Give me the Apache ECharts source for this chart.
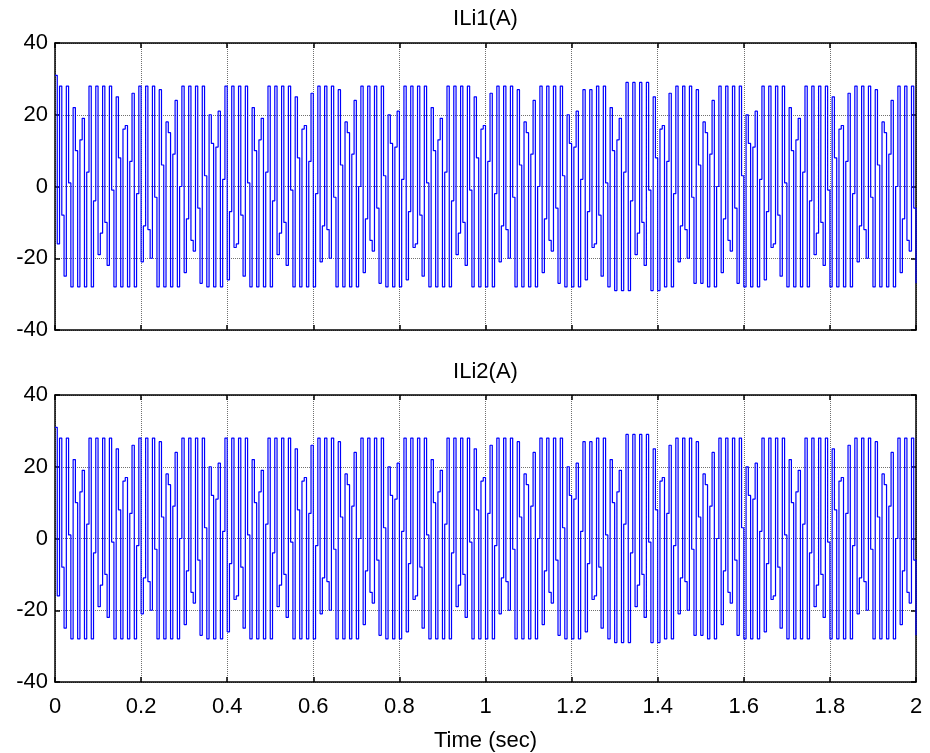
<!DOCTYPE html>
<html>
<head>
<meta charset="utf-8">
<script src="https://cdn.jsdelivr.net/npm/echarts@6/dist/echarts.min.js"></script>
<style>
html,body{margin:0;padding:0;background:#fff;}
#chart{width:930px;height:753px;}
</style>
</head>
<body>
<div id="chart"></div>
<script>
// Sample step of the plotted (held) trace, in s
const sampleStep = 1 / 190;
// ILi1(A) held sample values, read as a stair trace from t = 0 to t = 2 s
const ili1Values = [
31,-16,28,-8,-25,28,1,-28,22,10, -28,13,19,-28,4,28,-28,-4,28,-19,
-13,28,-10,-22,28,-1,-28,25,8,-28, 16,17,-28,7,26,-28,-2,28,-21,-11,
28,-12,-20,28,-3,-28,27,6,-28,18, 15,-28,9,24,-28,0,28,-24,-9,28,
-15,-18,28,-6,-27,28,3,-28,20,12, -28,11,21,-28,2,28,-26,-7,28,
-17,-16,28,-8,-25,28,1,-28,22,10, -28,13,19,-28,4,28,-28,-4,28,-19,
-13,28,-10,-22,28,-1,-28,25,8,-28, 16,17,-28,7,26,-28,-2,28,-21,-11,
28,-12,-20,28,-3,-28,27,6,-28,18, 15,-28,9,24,-28,0,28,-24,-9,28,
-15,-18,28,-6,-27,28,3,-28,20,12, -28,11,21,-28,2,28,-26,-7,28,
-17,-16,28,-8,-25,28,1,-28,22,10, -28,13,19,-28,4,28,-28,-4,28,-19,
-13,28,-10,-22,28,-1,-28,25,8,-28, 16,17,-28,7,26,-28,-2,28,-21,-11,
28,-12,-20,28,-3,-28,27,6,-28,18, 15,-28,9,24,-28,0,28,-24,-9,28,
-15,-18,28,-6,-27,28,3,-28,20,12, -28,11,21,-28,2,27,-26,-7,27,
-17,-16,28,-8,-25,28,1,-28,22,10, -29,13,19,-29,4,29,-29,-4,29,-19,
-13,29,-10,-22,29,-1,-29,25,8,-29, 16,17,-28,7,26,-28,-2,28,-21,-11,
28,-12,-20,28,-3,-27,27,6,-27,18, 15,-28,9,24,-28,0,28,-24,-9,28,
-15,-18,28,-6,-27,28,3,-28,20,12, -28,11,21,-28,2,28,-26,-7,28,
-17,-16,28,-8,-25,28,1,-28,22,10, -28,13,19,-28,4,28,-28,-4,28,-19,
-13,28,-10,-22,28,-1,-28,25,8,-28, 16,17,-28,7,26,-28,-2,28,-21,-11,
28,-12,-20,28,-3,-28,27,6,-28,18, 15,-28,9,24,-28,0,28,-24,-9,28,
-15,-18,28,-6,-27
];
// ILi2(A) trace is the same as ILi1(A) in the picture
const ili2Values = ili1Values.slice();
const xTickLabels = ['0','0.2','0.4','0.6','0.8','1','1.2','1.4','1.6','1.8','2'];
const yTickLabels = ['-40','-20','0','20','40'];
const titles = ['ILi1(A)', 'ILi2(A)'];
const xName = 'Time (sec)';

// zero-order-hold (stairs) point list built from the sample values
function toStairs(vals){
  const out = [];
  vals.forEach((v, i) => {
    const t = i * sampleStep;
    if (i > 0) out.push([t, vals[i - 1]]);
    out.push([t, v]);
  });
  return out;
}

const FONT = '"Liberation Sans", Arial, sans-serif';
const GRID_L = 55, GRID_W = 861, GRID_H = 287;
const tops = [43, 395];

const chart = echarts.init(document.getElementById('chart'), null, {renderer:'canvas'});

const grids = [], xAxes = [], yAxes = [], series = [];
tops.forEach((top, gi) => {
  grids.push({left: GRID_L, top: top, width: GRID_W, height: GRID_H, containLabel: false});
  const common = {
    gridIndex: gi, type: 'value', min: 0, max: 2, interval: 0.2,
    axisLine: {show: true, onZero: false, lineStyle: {color: '#000', width: 1.5}},
    axisTick: {show: true, inside: true, length: 5, lineStyle: {color: '#000', width: 1.5}}
  };
  xAxes.push(Object.assign({}, common, {
    position: 'bottom',
    axisLabel: {show: gi === 1, margin: 14, color: '#000', fontSize: 22, fontFamily: FONT,
      showMinLabel: true, showMaxLabel: true,
      formatter: (v) => xTickLabels[Math.round(v / 0.2)]},
    splitLine: {show: true, lineStyle: {color: '#707070', type: 'dotted', width: 1}}
  }));
  xAxes.push(Object.assign({}, common, {
    position: 'top', axisLabel: {show: false}, splitLine: {show: false}
  }));
  const ycommon = {
    gridIndex: gi, type: 'value', min: -40, max: 40, interval: 20,
    axisLine: {show: true, onZero: false, lineStyle: {color: '#000', width: 1.5}},
    axisTick: {show: true, inside: true, length: 5, lineStyle: {color: '#000', width: 1.5}}
  };
  yAxes.push(Object.assign({}, ycommon, {
    position: 'left',
    axisLabel: {show: true, margin: 7, color: '#000', fontSize: 22, fontFamily: FONT,
      formatter: (v) => yTickLabels[Math.round((v + 40) / 20)]},
    splitLine: {show: true, lineStyle: {color: '#707070', type: 'dotted', width: 1}}
  }));
  yAxes.push(Object.assign({}, ycommon, {
    position: 'right', axisLabel: {show: false}, splitLine: {show: false}
  }));
  series.push({
    type: 'line', name: titles[gi], xAxisIndex: gi * 2, yAxisIndex: gi * 2,
    data: toStairs(gi === 0 ? ili1Values : ili2Values),
    showSymbol: false, symbol: 'none', sampling: null,
    lineStyle: {color: '#0000ff', width: 1.2}, itemStyle: {color: '#0000ff'},
    animation: false, z: 3
  });
});

const graphics = [
  {type: 'text', x: GRID_L + GRID_W / 2, y: 19, style: {text: titles[0], fill: '#000', font: '22px ' + FONT, textAlign: 'center', textVerticalAlign: 'middle'}},
  {type: 'text', x: GRID_L + GRID_W / 2, y: 372, style: {text: titles[1], fill: '#000', font: '22px ' + FONT, textAlign: 'center', textVerticalAlign: 'middle'}},
  {type: 'text', x: GRID_L + GRID_W / 2, y: 741, style: {text: xName, fill: '#000', font: '22px ' + FONT, textAlign: 'center', textVerticalAlign: 'middle'}}
];

chart.setOption({
  animation: false,
  backgroundColor: '#fff',
  grid: grids,
  xAxis: xAxes,
  yAxis: yAxes,
  series: series,
  graphic: graphics
});
</script>
</body>
</html>
